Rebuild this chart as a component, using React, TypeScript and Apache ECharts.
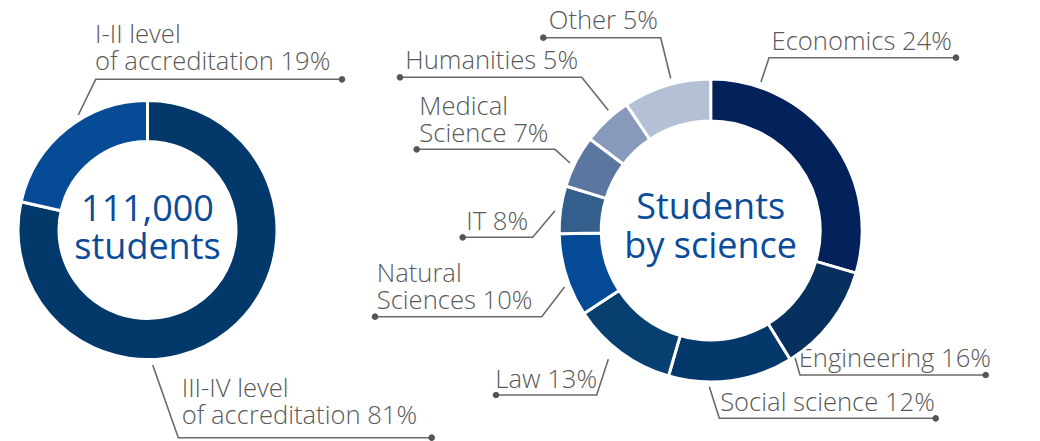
import React, { useEffect, useRef } from "react";
import * as echarts from "echarts";

// ---- data ----
const levelNames = ["III-IV level", "I-II level"];
const levelSub = ["of accreditation", "of accreditation"];
const levelValues = [78.5, 21.5]; // drawn share (as in picture)
const levelLabelPct = [81, 19]; // stated share
const totalLabel = ["111,000", "students"];

const scienceNameLines = [
  ["Economics"],
  ["Engineering"],
  ["Social science"],
  ["Law"],
  ["Natural", "Sciences"],
  ["IT"],
  ["Medical", "Science"],
  ["Humanities"],
  ["Other"],
];
const scienceValues = [29.6, 11.7, 13.3, 11.3, 8.9, 5.1, 5.6, 5.3, 9.4]; // drawn share
const scienceLabelPct = [24, 16, 12, 13, 10, 8, 7, 5, 5]; // stated share
const scienceTitle = ["Students", "by science"];

// ---- styles / layout ----
const levelColors = ["#03386A", "#064B95"];
const scienceColors = [
  "#03215A",
  "#07305F",
  "#05386A",
  "#063F70",
  "#054A96",
  "#345E8C",
  "#5B77A0",
  "#8899BB",
  "#B4C0D5",
];
const TEXT = "#595959";
const LINE = "#6a6a6a";
const BLUE = "#0A4C9A";
const FONT = '"Open Sans", "DejaVu Sans", sans-serif';
const FS = 25.6;
const LH = 27.3;
const CFS = 36;
const CLH = 38.7;

// label layout: text anchor x (left or center), first baseline, leader polyline (dot at first point)
type Lay = { x: number; align: string; base: number; pts: number[][] };
const levelLayout: Lay[] = [
  { x: 181.7, align: "left", base: 396.7, pts: [[431.7, 437.7], [178.3, 437.7], [152.7, 365]] },
  { x: 95, align: "left", base: 42.7, pts: [[342, 79.3], [95.7, 79.3], [78.3, 115]] },
];
const scienceLayout: Lay[] = [
  { x: 861.7, align: "center", base: 50, pts: [[956, 57.7], [769, 57.7], [761, 82]] },
  { x: 894.8, align: "center", base: 366.7, pts: [[985.7, 375], [800, 375], [791.7, 346]] },
  { x: 827.5, align: "center", base: 411, pts: [[935.7, 418.3], [719.3, 418.3], [709.3, 386.7]] },
  { x: 546.2, align: "center", base: 387.3, pts: [[496, 395], [596.7, 395], [608.3, 359.3]] },
  { x: 376.7, align: "left", base: 281.7, pts: [[375, 316.7], [541.7, 316.7], [564.5, 287]] },
  { x: 497.2, align: "center", base: 230, pts: [[462.7, 237.3], [532.7, 237.3], [555, 210.7]] },
  { x: 419.3, align: "left", base: 114.3, pts: [[416.7, 149.3], [555, 149.3], [570, 163]] },
  { x: 491.7, align: "center", base: 68.3, pts: [[400, 77.3], [581.7, 77.3], [608.3, 110.3]] },
  { x: 603.4, align: "center", base: 28.3, pts: [[543.3, 37.7], [660.7, 37.7], [670.7, 78.3]] },
];

const K = 0.36; // baseline -> middle offset (em)

function labelGraphics(lines: string[], lay: Lay) {
  const els: any[] = [];
  els.push({
    type: "text",
    x: lay.x,
    y: lay.base - K * FS - LH / 2,
    silent: true,
    style: {
      text: lines.join("\n"),
      fill: TEXT,
      fontFamily: FONT,
      fontWeight: 300,
      fontSize: FS,
      lineHeight: LH,
      align: lay.align,
      verticalAlign: "top",
    },
  });
  els.push({
    type: "polyline",
    silent: true,
    shape: { points: lay.pts },
    style: { stroke: LINE, lineWidth: 1.6, fill: null },
  });
  els.push({
    type: "circle",
    silent: true,
    shape: { cx: lay.pts[0][0], cy: lay.pts[0][1], r: 3.3 },
    style: { fill: "#555" },
  });
  return els;
}

function centerText(lines: string[], cx: number, base: number) {
  return {
    type: "text",
    x: cx,
    y: base - K * CFS - CLH / 2,
    silent: true,
    style: {
      text: lines.join("\n"),
      fill: BLUE,
      fontFamily: FONT,
      fontWeight: 500,
      fontSize: CFS,
      lineHeight: CLH,
      align: "center",
      verticalAlign: "top",
    },
  };
}

export default function App() {
  const ref = useRef<HTMLDivElement>(null);
  useEffect(() => {
    document.body.style.margin = "0";
    if (!ref.current) return;
    const chart = echarts.init(ref.current, undefined, { renderer: "svg" });

    const graphics: any[] = [];
    levelNames.forEach((n, i) => {
      graphics.push(...labelGraphics([n, `${levelSub[i]} ${levelLabelPct[i]}%`], levelLayout[i]));
    });
    scienceNameLines.forEach((ls, i) => {
      const lines = ls.slice();
      lines[lines.length - 1] = `${lines[lines.length - 1]} ${scienceLabelPct[i]}%`;
      graphics.push(...labelGraphics(lines, scienceLayout[i]));
    });
    graphics.push(centerText(totalLabel, 147.5, 220));
    graphics.push(centerText(scienceTitle, 710.7, 218.3));

    const common = {
      type: "pie",
      startAngle: 90,
      clockwise: true,
      silent: true,
      label: { show: false },
      labelLine: { show: false },
      emphasis: { disabled: true },
      itemStyle: { borderColor: "#ffffff", borderWidth: 3 },
    };

    chart.setOption({
      animation: false,
      backgroundColor: "#ffffff",
      series: [
        {
          ...common,
          center: [147.5, 230],
          radius: [88.5, 129.5],
          data: levelNames.map((n, i) => ({
            name: n,
            value: levelValues[i],
            itemStyle: { color: levelColors[i] },
          })),
        },
        {
          ...common,
          center: [710.7, 230.5],
          radius: [109.5, 151.5],
          data: scienceNameLines.map((ls, i) => ({
            name: ls.join(" "),
            value: scienceValues[i],
            itemStyle: { color: scienceColors[i] },
          })),
        },
      ],
      graphic: graphics,
    });
    return () => chart.dispose();
  }, []);
  return <div ref={ref} style={{ width: 1040, height: 441 }} />;
}
